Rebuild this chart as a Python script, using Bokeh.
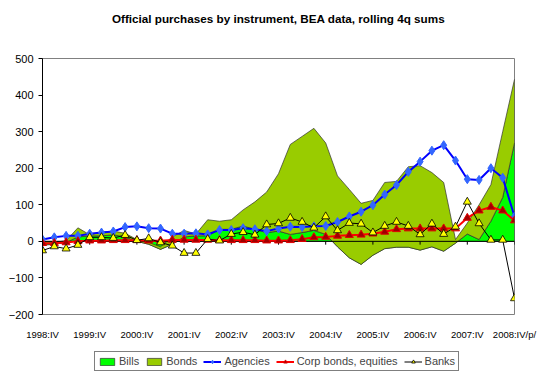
from bokeh.plotting import figure
from bokeh.models import Range1d, FixedTicker, Legend, LegendItem, Title
from bokeh.layouts import column
from bokeh.embed import file_html
from bokeh.resources import INLINE

# quarter index 0 = 1998:IV ... 40 = 2008:IV/p/
quarters = list(range(41))
tick_pos = [0, 4, 8, 12, 16, 20, 24, 28, 32, 36, 40]
tick_labels = ["1998:IV", "1999:IV", "2000:IV", "2001:IV", "2002:IV", "2003:IV",
               "2004:IV", "2005:IV", "2006:IV", "2007:IV", "2008:IV/p/"]

bills = [-10, -8, -3, 12, 15, 15, 18, 12, 0, -8, -22, -8, 12, 15, 15, 33, 33, 42, 33, 24,
         28, 19, 24, 30, 19, -15, -45, -63, -38, -20, -16, -16, -24, -15, -27, -5, 20, 5, 55, 120,
         269]
bonds = [2, 5, 5, 25, 3, 10, 10, 10, 5, 5, 7, 20, 18, 5, 44, 22, 26, 44, 75, 111,
         157, 246, 263, 279, 250, 194, 187, 167, 150, 181, 180, 220, 231, 203, 188, 10, 30, 95, 100, 180,
         174]
agencies = [5, 11, 15, 15, 21, 24, 27, 39, 41, 36, 35, 21, 21, 22, 19, 31, 31, 36, 33, 28,
            35, 40, 39, 41, 42, 53, 68, 81, 99, 128, 154, 190, 218, 248, 263, 221, 170, 168, 200, 174,
            68]
corp = [-5, -5, -3, 0, 2, 2, 3, 3, 3, 2, 2, 4, 4, 4, 4, 3, 3, 3, 3, 2,
        2, 3, 6, 11, 12, 15, 17, 18, 21, 26, 33, 35, 35, 35, 35, 35, 64, 84, 94, 84,
        57]
banks = [-25, -14, -20, -10, 11, 11, 9, 17, 3, 8, -3, -12, -32, -32, 6, 2, 20, 25, 18, 46,
         49, 64, 53, 37, 68, 30, 50, 48, 24, 42, 53, 42, 19, 48, 20, 40, 108, 49, 4, 4,
         -156]

total = [b + d for b, d in zip(bills, bonds)]

FONT = "Liberation Sans"
STYLE = {
    "bills": dict(fill_color="#00FF00", line_color="#303030", line_width=0.7),
    "bonds": dict(fill_color="#99CC00", line_color="#303030", line_width=0.7),
    "ag_l": dict(line_color="#0000FF", line_width=2),
    "ag_m": dict(marker="diamond", size=9, fill_color="#3366FF", line_color="#3366FF"),
    "co_l": dict(line_color="#FF0000", line_width=2),
    "co_m": dict(marker="triangle", size=8, fill_color="#A00000", line_color="#E00000"),
    "ba_l": dict(line_color="black", line_width=1),
    "ba_m": dict(marker="triangle", size=8, fill_color="#FFFF00", line_color="black", line_width=0.8),
}


def draw_series(fig):
    xs_area = quarters + quarters[::-1]
    r = {}
    r["bills"] = fig.patch(xs_area, bills + [0] * len(quarters), **STYLE["bills"])
    r["bonds"] = fig.patch(xs_area, total + bills[::-1], **STYLE["bonds"])
    return r


def draw_lines(fig, r):
    r["ag_l"] = fig.line(quarters, agencies, **STYLE["ag_l"])
    r["ag_m"] = fig.scatter(quarters, agencies, **STYLE["ag_m"])
    r["co_l"] = fig.line(quarters, corp, **STYLE["co_l"])
    r["co_m"] = fig.scatter(quarters, corp, **STYLE["co_m"])
    r["ba_l"] = fig.line(quarters, banks, **STYLE["ba_l"])
    r["ba_m"] = fig.scatter(quarters, banks, **STYLE["ba_m"])
    return r


p = figure(width=540, height=342, output_backend="svg", toolbar_location=None, title=None,
           x_range=Range1d(0, 40), y_range=Range1d(-200, 500),
           min_border_left=42, min_border_right=26, min_border_top=58, min_border_bottom=20)

# spacer title (closest to frame) then the real title above it
p.add_layout(Title(text=" ", text_font=FONT, text_font_size="12px", standoff=13), "above")
p.add_layout(Title(text="Official purchases by instrument, BEA data, rolling 4q sums",
                   text_font=FONT, text_font_size="11.7px", text_font_style="bold",
                   text_color="black", align="center"), "above")

p.grid.visible = False
p.outline_line_color = "#808080"
p.outline_line_width = 1
p.background_fill_color = "white"
p.border_fill_color = "white"

rr = draw_series(p)
# zero line and category ticks
p.segment(x0=[quarters[0]], y0=[0], x1=[quarters[-1]], y1=[0], line_color="black", line_width=1)
p.segment(x0=tick_pos, y0=[0] * len(tick_pos), x1=tick_pos, y1=[-9] * len(tick_pos),
          line_color="black", line_width=1)
draw_lines(p, rr)

# axes
p.xaxis.ticker = FixedTicker(ticks=tick_pos)
p.xaxis.major_label_overrides = {t: l for t, l in zip(tick_pos, tick_labels)}
p.xaxis.axis_line_color = None
p.xaxis.major_tick_line_color = None
p.xaxis.minor_tick_line_color = None
p.xaxis.major_label_standoff = 8
p.xaxis.major_label_text_font = FONT
p.xaxis.major_label_text_font_size = "9.5px"
p.xaxis.major_label_text_color = "black"

p.yaxis.ticker = FixedTicker(ticks=[-200, -100, 0, 100, 200, 300, 400, 500])
p.yaxis.axis_line_color = "black"
p.yaxis.major_tick_line_color = "black"
p.yaxis.major_tick_out = 4
p.yaxis.major_tick_in = 0
p.yaxis.minor_tick_line_color = None
p.yaxis.major_label_standoff = 5
p.yaxis.major_label_text_font = FONT
p.yaxis.major_label_text_font_size = "11px"
p.yaxis.major_label_text_color = "black"

# legend strip: a second figure holding the legend (its own renderers hidden)
q = figure(width=540, height=30, output_backend="svg", toolbar_location=None,
           x_range=Range1d(0, 40), y_range=Range1d(-200, 500),
           x_axis_type=None, y_axis_type=None,
           min_border_left=42, min_border_right=26, min_border_top=0, min_border_bottom=0)
q.grid.visible = False
q.outline_line_color = None
q.background_fill_color = "white"
q.border_fill_color = "white"
lr = draw_series(q)
draw_lines(q, lr)
for ren in lr.values():
    ren.visible = False

legend = Legend(items=[
    LegendItem(label="Bills", renderers=[lr["bills"]]),
    LegendItem(label="Bonds", renderers=[lr["bonds"]]),
    LegendItem(label="Agencies", renderers=[lr["ag_l"], lr["ag_m"]]),
    LegendItem(label="Corp bonds, equities", renderers=[lr["co_l"], lr["co_m"]]),
    LegendItem(label="Banks", renderers=[lr["ba_l"], lr["ba_m"]]),
], orientation="horizontal", location=(52, 1))
legend.label_text_font = FONT
legend.label_text_font_size = "11px"
legend.label_height = 11
legend.glyph_height = 9
legend.glyph_width = 18
legend.label_standoff = 3
legend.spacing = 6
legend.padding = 3
legend.margin = 0
legend.border_line_color = "black"
legend.border_line_width = 1
legend.background_fill_alpha = 1
legend.inactive_fill_alpha = 0
legend.click_policy = "none"
q.add_layout(legend, "center")

open("out.html", "w").write(file_html(column(p, q), INLINE))
